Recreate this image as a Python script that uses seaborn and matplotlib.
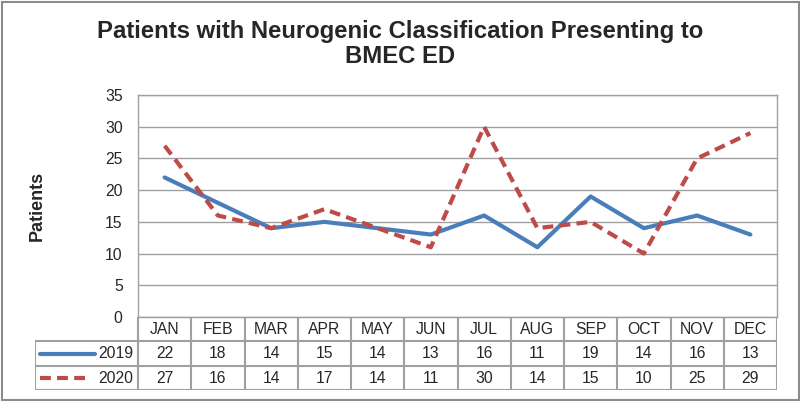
import pandas as pd
import seaborn as sns
import matplotlib.pyplot as plt
from matplotlib.patches import Rectangle
from matplotlib.lines import Line2D

months = ['JAN', 'FEB', 'MAR', 'APR', 'MAY', 'JUN', 'JUL', 'AUG', 'SEP', 'OCT', 'NOV', 'DEC']
patients_2019 = [22, 18, 14, 15, 14, 13, 16, 11, 19, 14, 16, 13]
patients_2020 = [27, 16, 14, 17, 14, 11, 30, 14, 15, 10, 25, 29]
y_ticks = [0, 5, 10, 15, 20, 25, 30, 35]

df = pd.DataFrame({'month': range(len(months)), '2019': patients_2019, '2020': patients_2020})

sns.set_style('white')
plt.rcParams['font.family'] = ['Liberation Sans', 'DejaVu Sans']

BLUE = '#4a7ebb'
RED = '#be4b48'
GRID = '#a0a0a0'
DASH = (0, (2.6, 1.5))
FS = 11.3
W, H = 800, 401

fig = plt.figure(figsize=(8, 4.01), dpi=100)

# plot area in pixels: x 138..777, y 95..317
ax = fig.add_axes([138 / W, (H - 317) / H, (777 - 138) / W, (317 - 95) / H])
sns.lineplot(data=df, x='month', y='2019', ax=ax, color=BLUE, linewidth=3)
sns.lineplot(data=df, x='month', y='2020', ax=ax, color=RED, linewidth=3, linestyle=DASH)
ax.set_xlim(-0.5, 11.5)
ax.set_ylim(0, 35)
ax.set_yticks(y_ticks)
ax.set_xticks([])
ax.set_xlabel('')
ax.set_ylabel('')
ax.tick_params(axis='y', labelsize=FS, length=0, pad=11)
ax.yaxis.grid(True, color=GRID, linewidth=1)
for s in ax.spines.values():
    s.set_color(GRID)
    s.set_linewidth(1)

# data table below the plot
tab = fig.add_axes([35 / W, (H - 390) / H, (777 - 35) / W, (390 - 317) / H])
col_w = (777 - 138) / 12
left = -0.5 - (138 - 35) / col_w
tab.set_xlim(left, 11.5)
tab.set_ylim(3, 0)
tab.axis('off')
tab.hlines([0], -0.5, 11.5, color=GRID, lw=1.5)
tab.hlines([1, 2, 3], left, 11.5, color=GRID, lw=1.5)
tab.vlines([i - 0.5 for i in range(13)], 0, 3, color=GRID, lw=1.5)
tab.vlines([left], 1, 3, color=GRID, lw=1.5)
for i, m in enumerate(months):
    tab.text(i, 0.52, m, ha='center', va='center', fontsize=FS)
    tab.text(i, 1.52, str(patients_2019[i]), ha='center', va='center', fontsize=FS)
    tab.text(i, 2.52, str(patients_2020[i]), ha='center', va='center', fontsize=FS)
tab.add_line(Line2D([left + 0.1, left + 1.12], [1.5, 1.5], color=BLUE, lw=3))
tab.add_line(Line2D([left + 0.1, left + 1.0], [2.5, 2.5], color=RED, lw=3, linestyle=DASH))
tab.text(-0.58, 1.52, '2019', ha='right', va='center', fontsize=FS)
tab.text(-0.58, 2.52, '2020', ha='right', va='center', fontsize=FS)

fig.text(0.5, (H - 44) / H, 'Patients with Neurogenic Classification Presenting to\nBMEC ED',
         ha='center', va='center', fontsize=17.2, fontweight='bold', linespacing=1.12)
fig.text(37 / W, (H - 206) / H, 'Patients', rotation=90, ha='center', va='center',
         fontsize=13, fontweight='bold')

fig.patches.append(Rectangle((1.5 / W, 1.5 / H), (W - 3) / W, (H - 3) / H,
                             transform=fig.transFigure, fill=False,
                             edgecolor='#8c8c8c', linewidth=1.5))

plt.savefig('out.png', dpi=100)
